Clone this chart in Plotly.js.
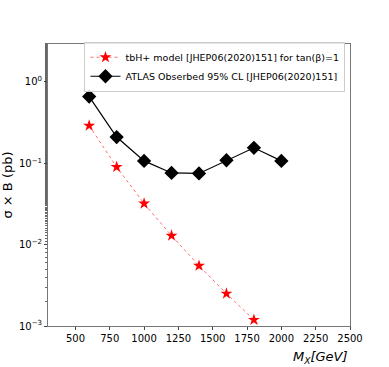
<!DOCTYPE html>
<html>
<head>
<meta charset="utf-8">
<script src="https://cdn.plot.ly/plotly-3.0.1.min.js"></script>
<style>
  html, body { margin: 0; padding: 0; background: #fff; }
  #chart { width: 389px; height: 367px; }
</style>
</head>
<body>
<div id="chart"></div>
<script>
// Masses (GeV) and cross sections (pb)
const massModel = [600, 800, 1000, 1200, 1400, 1600, 1800, 2000];
const xsecModel = [0.29, 0.090, 0.032, 0.0129, 0.0055, 0.0025, 0.00119, 0.00052];
const massAtlas = [600, 800, 1000, 1200, 1400, 1600, 1800, 2000];
const xsecAtlas = [0.66, 0.21, 0.107, 0.076, 0.075, 0.109, 0.155, 0.107];
const xTicks = [500, 750, 1000, 1250, 1500, 1750, 2000, 2250, 2500];
const yTicks = [0.001, 0.01, 0.1, 1];
const yTickText = ['10<sup>−3</sup>', '10<sup>−2</sup>', '10<sup>−1</sup>', '10<sup>0</sup>'];

const model = {
    x: massModel,
    y: xsecModel,
    type: 'scatter',
    mode: 'lines+markers',
    name: 'tbH+ model [JHEP06(2020)151] for tan(β)=1',
    line: { color: '#ff3030', width: 0.7, dash: 'dot' },
    marker: { symbol: 'star', color: '#ff0000', size: 9, line: { width: 0 } }
};
const atlas = {
    x: massAtlas,
    y: xsecAtlas,
    type: 'scatter',
    mode: 'lines+markers',
    name: 'ATLAS Obserbed 95% CL [JHEP06(2020)151]',
    line: { color: '#000000', width: 1.2 },
    marker: { symbol: 'diamond', color: '#000000', size: 11 }
};

const layout = {
    width: 389,
    height: 367,
    margin: { l: 48, r: 39, t: 44, b: 41 },
    paper_bgcolor: '#ffffff',
    plot_bgcolor: '#ffffff',
    font: { family: 'DejaVu Sans', color: '#000', size: 10 },
    showlegend: true,
    legend: {
        x: 0.985, y: 1.008, xanchor: 'right', yanchor: 'top',
        bgcolor: 'rgba(255,255,255,0.8)',
        bordercolor: '#cccccc', borderwidth: 1,
        font: { size: 9.5 },
        tracegroupgap: 0,
        itemwidth: 30
    },
    xaxis: {
        range: [300, 2500],
        tickvals: xTicks,
        ticks: 'outside', ticklen: 3, tickcolor: '#444',
        showgrid: false, zeroline: false,
        showline: true, linecolor: '#777', linewidth: 1, mirror: true,
        tickfont: { size: 10 }
    },
    yaxis: {
        type: 'log',
        range: [-3, 0.466],
        tickvals: yTicks,
        ticktext: yTickText,
        ticks: 'outside', ticklen: 3, tickcolor: '#444',
        minor: { ticks: 'outside', ticklen: 2, tickcolor: '#666', showgrid: false },
        showgrid: false, zeroline: false,
        showline: true, linecolor: '#777', linewidth: 1, mirror: true,
        tickfont: { size: 10 },
        title: { text: 'σ × B (pb)', font: { size: 13 }, standoff: 6 }
    },
    annotations: [{
        text: '<i>M<sub>X</sub>[GeV]</i>',
        xref: 'paper', yref: 'paper',
        x: 1, y: -0.075, xanchor: 'right', yanchor: 'top',
        showarrow: false,
        font: { size: 13 }
    }]
};

Plotly.newPlot('chart', [model, atlas], layout, { displayModeBar: false, staticPlot: true });
</script>
</body>
</html>
